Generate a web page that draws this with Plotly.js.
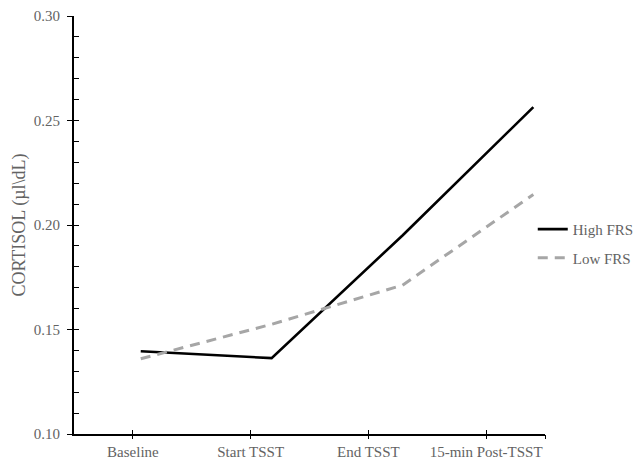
<!DOCTYPE html>
<html>
<head>
<meta charset="utf-8">
<script src="https://cdn.plot.ly/plotly-3.0.1.min.js"></script>
<style>html,body{margin:0;padding:0;background:#fff;}#chart{width:641px;height:465px;}</style>
</head>
<body>
<div id="chart"></div>
<script>
const categories = ["Baseline", "Start TSST", "End TSST", "15-min Post-TSST"];
const highFRS = [0.1396, 0.1363, 0.1950, 0.2564];
const lowFRS = [0.1360, 0.1525, 0.1712, 0.2146];
const seriesNames = ["High FRS", "Low FRS"];
const yTitle = "CORTISOL (µl\\dL)";

const idx = categories.map((_, i) => i);
const fam = "Liberation Serif, Times New Roman, serif";
const font = {family: fam, size: 15, color: "#636363"};

const traces = [
  {x: idx, y: highFRS, name: seriesNames[0], type: "scatter", mode: "lines",
   xaxis: "x", yaxis: "y", legendgroup: "a",
   line: {color: "#000000", width: 2.6}},
  {x: idx, y: lowFRS, name: seriesNames[1], type: "scatter", mode: "lines",
   xaxis: "x", yaxis: "y", legendgroup: "b",
   line: {color: "#a6a6a6", width: 3, dash: "10px,7px"}},
  // helper traces so the overlay axes (tick marks / labels) are drawn
  {x: [null], y: [null], xaxis: "x2", yaxis: "y", type: "scatter", mode: "lines", showlegend: false, hoverinfo: "skip"},
  {x: [null], y: [null], xaxis: "x3", yaxis: "y", type: "scatter", mode: "lines", showlegend: false, hoverinfo: "skip"},
  {x: [null], y: [null], xaxis: "x", yaxis: "y2", type: "scatter", mode: "lines", showlegend: false, hoverinfo: "skip"}
];

const tickPos = idx.concat([idx.length - 0.5]);
const tickTxt = categories.concat([""]);

const layout = {
  width: 641, height: 465,
  margin: {l: 74, r: 96, t: 16, b: 31, pad: 0, autoexpand: false},
  paper_bgcolor: "#ffffff", plot_bgcolor: "#ffffff",
  font: font,
  showlegend: true,
  legend: {x: 0.974, xanchor: "left", y: 0.456, yanchor: "middle",
           font: font, traceorder: "grouped", tracegroupgap: 6,
           bgcolor: "rgba(0,0,0,0)"},
  xaxis: {range: [-0.51, 3.089], showticklabels: false, ticks: "",
          showline: true, linecolor: "#000", linewidth: 2,
          showgrid: false, zeroline: false},
  xaxis2: {overlaying: "x", anchor: "y", range: [-0.5, 3.5], tickmode: "array", tickvals: tickPos, ticktext: tickTxt,
          ticks: "outside", ticklen: 4, tickwidth: 1, tickcolor: "#000",
          showline: false, showgrid: false, zeroline: false, tickfont: font},
  xaxis3: {overlaying: "x", anchor: "y", range: [-0.5, 3.5], tickmode: "array", tickvals: tickPos,
          showticklabels: false, ticks: "inside", ticklen: 4, tickwidth: 1, tickcolor: "#000",
          showline: false, showgrid: false, zeroline: false},
  yaxis: {range: [0.10, 0.30], dtick: 0.05, tickformat: ".2f",
          ticks: "outside", ticklen: 5, tickwidth: 1, tickcolor: "#000",
          showline: true, linecolor: "#000", linewidth: 2, ticklabelstandoff: 4,
          showgrid: false, zeroline: false, tickfont: font,
          title: {text: yTitle, font: {family: fam, size: 18, color: "#636363"}, standoff: 3}},
  yaxis2: {overlaying: "y", anchor: "x", range: [0.10, 0.30], dtick: 0.01, showticklabels: false,
          ticks: "inside", ticklen: 5, tickwidth: 1, tickcolor: "#000",
          showline: false, showgrid: false, zeroline: false}
};

Plotly.newPlot("chart", traces, layout, {displayModeBar: false, staticPlot: true});
</script>
</body>
</html>
